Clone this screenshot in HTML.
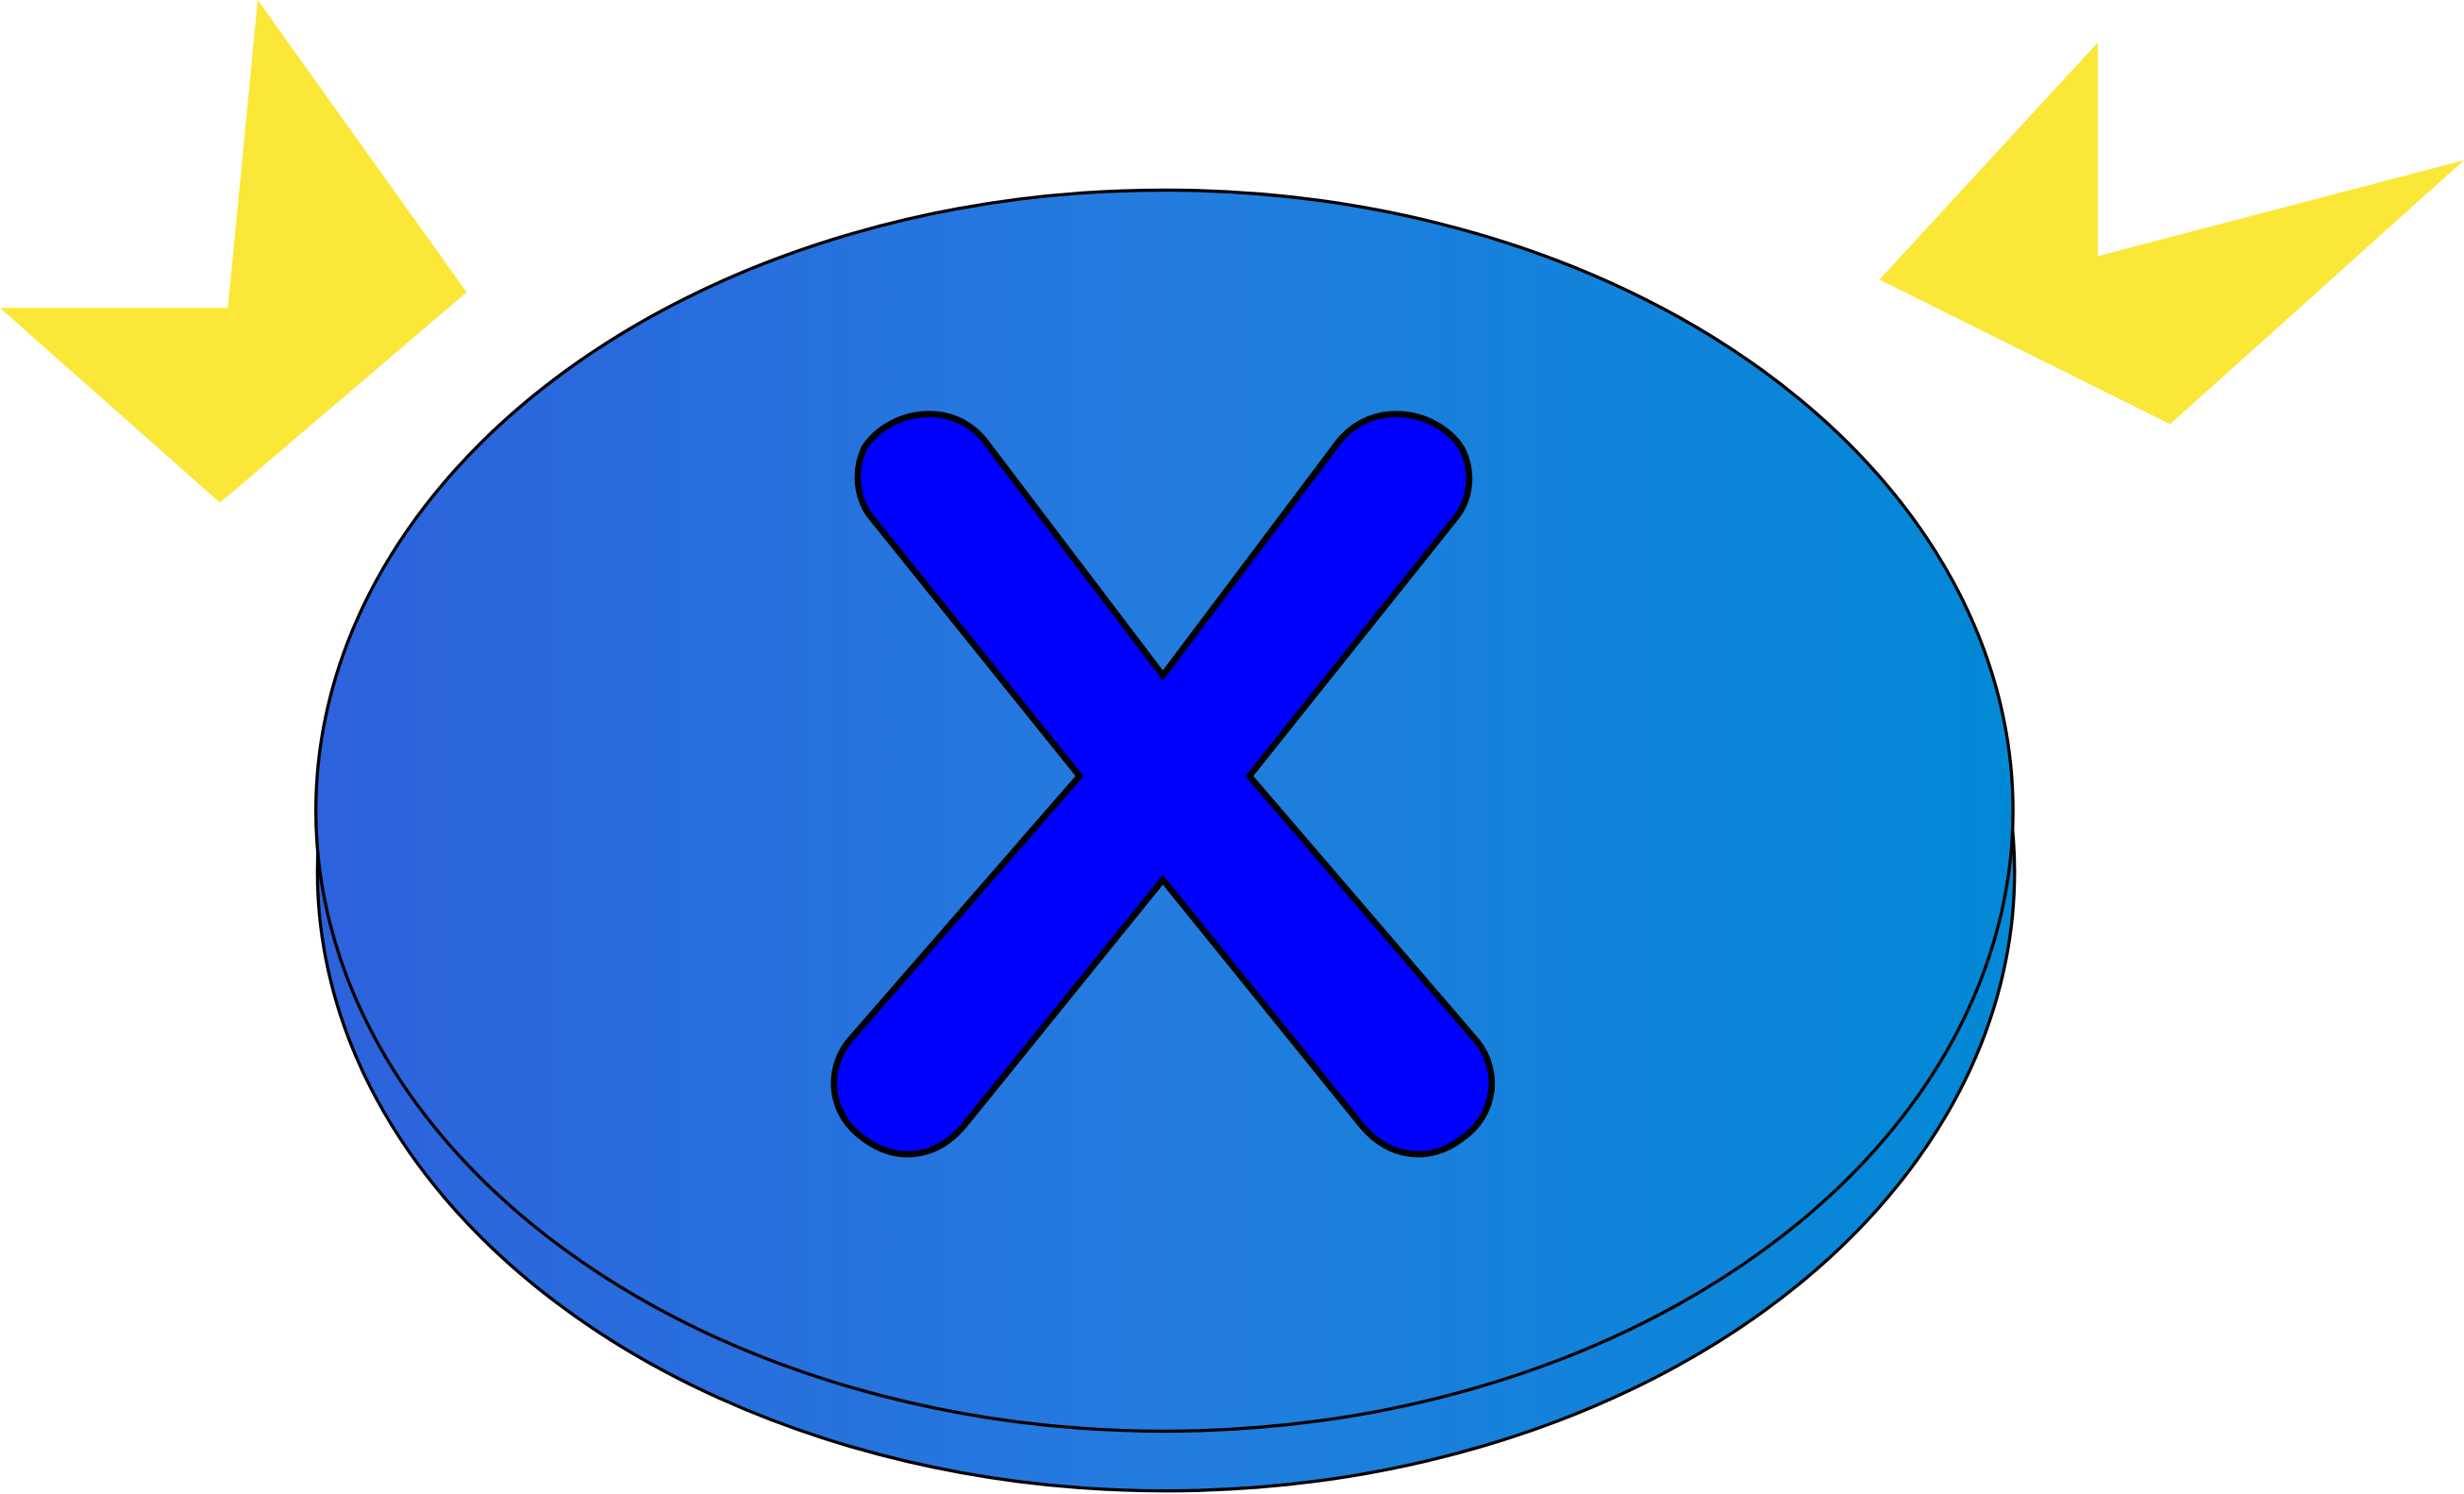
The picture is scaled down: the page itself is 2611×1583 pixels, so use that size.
<!DOCTYPE html>
<html><head><meta charset="utf-8"><style>
html,body{margin:0;padding:0;background:#fff;width:2611px;height:1583px;overflow:hidden}
svg{display:block}
</style></head><body>
<svg width="2611" height="1583" viewBox="0 0 1568 951" preserveAspectRatio="none" xmlns="http://www.w3.org/2000/svg">
<defs>
<linearGradient id="g" x1="0" x2="1" y1="0" y2="0">
<stop offset="0" stop-color="#2c62dc"/>
<stop offset="0.5" stop-color="#237cde"/>
<stop offset="1" stop-color="#0289d6"/>
</linearGradient>
</defs>
<polygon points="164,0 297,186 140,320 0,196 145,196" fill="#fbe737"/>
<polygon points="1335,27 1335,163 1568,102 1381,270 1196,178" fill="#fbe737"/>
<ellipse cx="742" cy="555" rx="540" ry="394" fill="url(#g)" stroke="#000" stroke-width="2"/>
<ellipse cx="741" cy="516" rx="540" ry="395" fill="url(#g)" stroke="#000" stroke-width="2"/>
<path d="M627,281 L740,430 L852,281 C875,253 915,262 930,285 C938,300 936,318 926,330 L795,494 L940,663 C955,682 952,710 930,725 C910,740 885,738 867,717 L740,560 L613,717 C595,738 570,740 550,725 C528,710 525,682 540,663 L687,494 L555,330 C545,318 543,300 550,285 C565,262 605,253 627,281 Z" fill="#0000ff" stroke="#000" stroke-width="4" stroke-linejoin="miter"/>
</svg>
</body></html>
